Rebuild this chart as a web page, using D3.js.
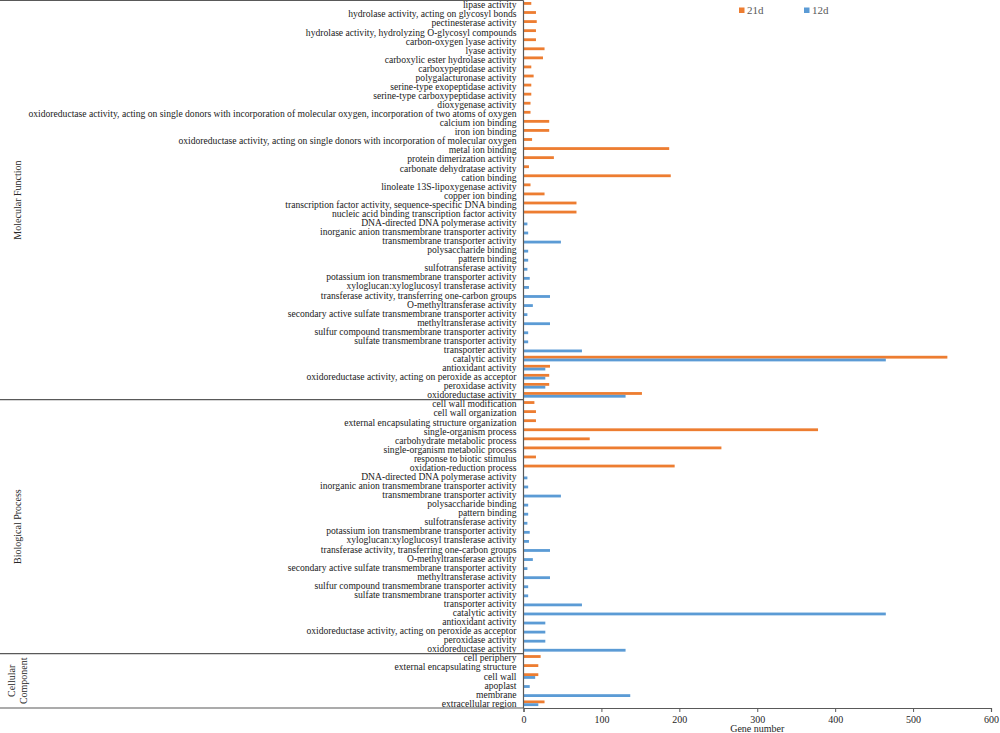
<!DOCTYPE html>
<html>
<head>
<meta charset="utf-8">
<script src="https://cdn.jsdelivr.net/npm/d3@7/dist/d3.min.js"></script>
<style>
  html, body { margin: 0; padding: 0; background: #fff; }
  svg { display: block; }
  text { font-family: "Liberation Serif", "Times New Roman", serif; }
</style>
</head>
<body>
<svg id="chart" width="1000" height="733"></svg>
<script>
// ---- data (top to bottom) ----
const categories = [
  "lipase activity",
  "hydrolase activity, acting on glycosyl bonds",
  "pectinesterase activity",
  "hydrolase activity, hydrolyzing O-glycosyl compounds",
  "carbon-oxygen lyase activity",
  "lyase activity",
  "carboxylic ester hydrolase activity",
  "carboxypeptidase activity",
  "polygalacturonase activity",
  "serine-type exopeptidase activity",
  "serine-type carboxypeptidase activity",
  "dioxygenase activity",
  "oxidoreductase activity, acting on single donors with incorporation of molecular oxygen, incorporation of two atoms of oxygen",
  "calcium ion binding",
  "iron ion binding",
  "oxidoreductase activity, acting on single donors with incorporation of molecular oxygen",
  "metal ion binding",
  "protein dimerization activity",
  "carbonate dehydratase activity",
  "cation binding",
  "linoleate 13S-lipoxygenase activity",
  "copper ion binding",
  "transcription factor activity, sequence-specific DNA binding",
  "nucleic acid binding transcription factor activity",
  "DNA-directed DNA polymerase activity",
  "inorganic anion transmembrane transporter activity",
  "transmembrane transporter activity",
  "polysaccharide binding",
  "pattern binding",
  "sulfotransferase activity",
  "potassium ion transmembrane transporter activity",
  "xyloglucan:xyloglucosyl transferase activity",
  "transferase activity, transferring one-carbon groups",
  "O-methyltransferase activity",
  "secondary active sulfate transmembrane transporter activity",
  "methyltransferase activity",
  "sulfur compound transmembrane transporter activity",
  "sulfate transmembrane transporter activity",
  "transporter activity",
  "catalytic activity",
  "antioxidant activity",
  "oxidoreductase activity, acting on peroxide as acceptor",
  "peroxidase activity",
  "oxidoreductase activity",
  "cell wall modification",
  "cell wall organization",
  "external encapsulating structure organization",
  "single-organism process",
  "carbohydrate metabolic process",
  "single-organism metabolic process",
  "response to biotic stimulus",
  "oxidation-reduction process",
  "DNA-directed DNA polymerase activity",
  "inorganic anion transmembrane transporter activity",
  "transmembrane transporter activity",
  "polysaccharide binding",
  "pattern binding",
  "sulfotransferase activity",
  "potassium ion transmembrane transporter activity",
  "xyloglucan:xyloglucosyl transferase activity",
  "transferase activity, transferring one-carbon groups",
  "O-methyltransferase activity",
  "secondary active sulfate transmembrane transporter activity",
  "methyltransferase activity",
  "sulfur compound transmembrane transporter activity",
  "sulfate transmembrane transporter activity",
  "transporter activity",
  "catalytic activity",
  "antioxidant activity",
  "oxidoreductase activity, acting on peroxide as acceptor",
  "peroxidase activity",
  "oxidoreductase activity",
  "cell periphery",
  "external encapsulating structure",
  "cell wall",
  "apoplast",
  "membrane",
  "extracellular region"
];

const groupNames = ["Molecular Function", "Biological Process", "Cellular Component"];
const groupSizes = [44, 28, 6];

const values21d = [
  10, 16, 17, 16, 16, 27, 25, 10, 13, 10, 10, 9, 9, 33, 33, 11, 187, 39, 7, 189, 9, 27, 68, 68,
  null, null, null, null, null, null, null, null, null, null, null, null, null, null, null,
  544, 34, 33, 33, 152,
  14, 16, 16, 378, 85, 254, 16, 194,
  null, null, null, null, null, null, null, null, null, null, null, null, null, null, null,
  null, null, null, null, null,
  22, 19, 19, null, null, 27
];

const values12d = [
  null, null, null, null, null, null, null, null, null, null, null, null, null, null, null, null,
  null, null, null, null, null, null, null, null,
  5, 6, 48, 6, 6, 5, 8, 7, 34, 12, 5, 34, 6, 6, 75,
  465, 28, 28, 28, 131,
  null, null, null, null, null, null, null, null,
  5, 6, 48, 6, 6, 5, 8, 7, 34, 12, 5, 34, 6, 6, 75,
  465, 28, 28, 28, 131,
  null, null, 15, 8, 137, 19
];

const seriesNames = ["21d", "12d"];
const seriesColors = ["#ED7D31", "#5B9BD5"];
const xTicks = [0, 100, 200, 300, 400, 500, 600];

// ---- layout ----
const svg = d3.select("#chart");
const plotLeft = 523.5, plotRight = 991, plotTop = 0.5, plotBottom = 708;
const lineColor = "#595959";

const x = d3.scaleLinear().domain([0, 600]).range([plotLeft, plotRight]);
const ids = categories.map((d, i) => i);
const y = d3.scaleBand().domain(ids).range([plotTop, plotBottom]).padding(0);
const bw = y.bandwidth();

const rows = ids.map(i => ({ i, name: categories[i], v21: values21d[i], v12: values12d[i] }));

// bars
const barH = 2.8;
svg.append("g").selectAll("rect.s21")
  .data(rows.filter(d => d.v21 != null))
  .join("rect")
  .attr("x", x(0))
  .attr("y", d => y(d.i) + bw / 2 - barH - 0.2)
  .attr("width", d => x(d.v21) - x(0))
  .attr("height", barH)
  .attr("fill", seriesColors[0]);

svg.append("g").selectAll("rect.s12")
  .data(rows.filter(d => d.v12 != null))
  .join("rect")
  .attr("x", x(0))
  .attr("y", d => y(d.i) + bw / 2 - 0.2)
  .attr("width", d => x(d.v12) - x(0))
  .attr("height", barH)
  .attr("fill", seriesColors[1]);

// category labels
svg.append("g").selectAll("text")
  .data(rows)
  .join("text")
  .attr("x", plotLeft - 7)
  .attr("y", d => y(d.i) + bw / 2)
  .attr("dy", "0.34em")
  .attr("text-anchor", "end")
  .attr("font-size", "9.6px")
  .attr("fill", "#1a1a1a")
  .text(d => d.name);

// x axis
const xAxis = d3.axisBottom(x).tickValues(xTicks).tickSize(4).tickPadding(3.5).tickFormat(d3.format("d"));
const gx = svg.append("g").attr("transform", `translate(0,${plotBottom})`).call(xAxis);
gx.select(".domain").attr("stroke", lineColor).attr("stroke-width", 1.2);
gx.selectAll(".tick line").attr("stroke", lineColor);
gx.selectAll(".tick text").attr("font-family", "Liberation Serif, serif").attr("font-size", "10px").attr("fill", "#262626");

svg.append("text")
  .attr("x", (plotLeft + plotRight) / 2)
  .attr("y", 732)
  .attr("text-anchor", "middle")
  .attr("font-size", "10px")
  .attr("fill", "#262626")
  .text("Gene number");

// vertical axis line
svg.append("line")
  .attr("x1", plotLeft).attr("x2", plotLeft)
  .attr("y1", plotTop).attr("y2", plotBottom)
  .attr("stroke", lineColor).attr("stroke-width", 1.2);

// group separators & labels
let start = 0;
const groups = groupNames.map((g, k) => {
  const s = start; start += groupSizes[k];
  return { name: g, s, e: start - 1 };
});
const bounds = [plotTop].concat(groups.map(g => y(g.e) + bw));
svg.append("g").selectAll("line")
  .data(bounds)
  .join("line")
  .attr("x1", 0).attr("x2", plotLeft)
  .attr("y1", d => d).attr("y2", d => d)
  .attr("stroke", lineColor).attr("stroke-width", 1.2);

groups.forEach(g => {
  const cy = (y(g.s) + y(g.e) + bw) / 2;
  const words = g.name === "Cellular Component" ? ["Cellular", "Component"] : [g.name];
  const t = svg.append("text")
    .attr("transform", `translate(18,${cy}) rotate(-90)`)
    .attr("text-anchor", "middle")
    .attr("font-size", "10px")
    .attr("fill", "#262626");
  if (words.length === 1) {
    t.append("tspan").attr("x", 0).attr("dy", "0.34em").text(words[0]);
  } else {
    t.append("tspan").attr("x", 0).attr("dy", "-0.26em").text(words[0]);
    t.append("tspan").attr("x", 0).attr("dy", "1.2em").text(words[1]);
  }
});

// legend
const legendX = [739, 804];
seriesNames.forEach((n, k) => {
  svg.append("rect").attr("x", legendX[k]).attr("y", 7.5).attr("width", 5.5).attr("height", 5.5).attr("fill", seriesColors[k]);
  svg.append("text").attr("x", legendX[k] + 8).attr("y", 10.5).attr("dy", "0.34em")
    .attr("font-size", "11px").attr("fill", "#595959").text(n);
});
</script>
</body>
</html>
